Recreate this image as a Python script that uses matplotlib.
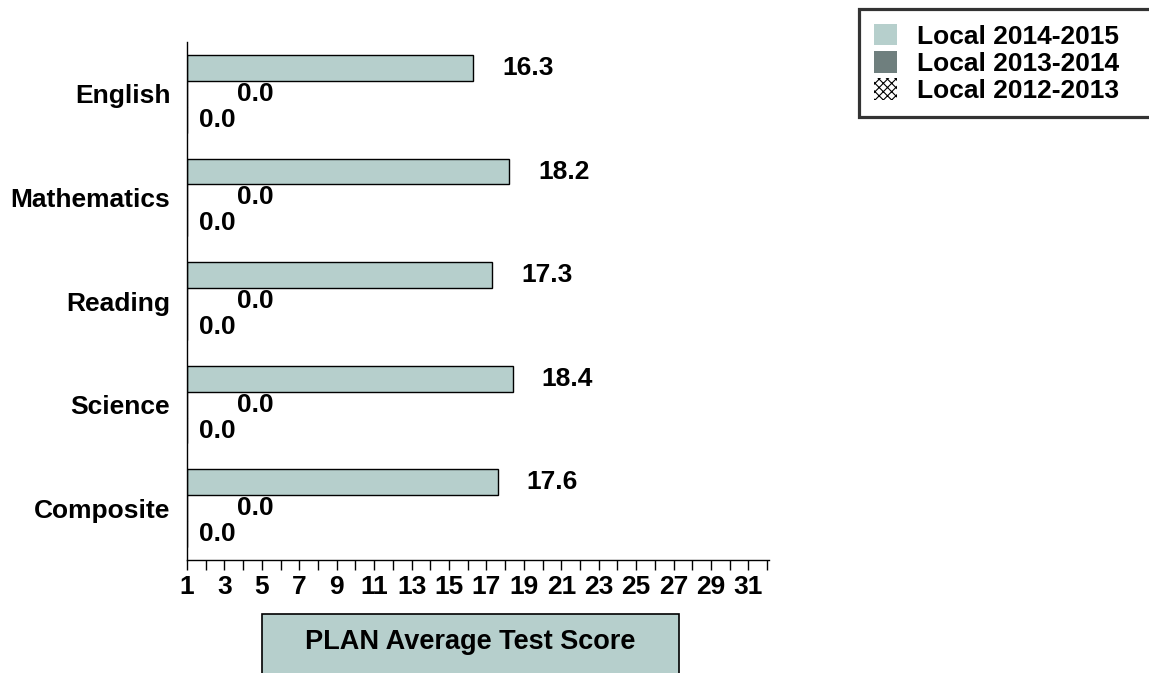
import matplotlib
matplotlib.use('Agg')
import matplotlib.pyplot as plt
from matplotlib.patches import Patch, Rectangle
import numpy as np

plt.rcParams['font.family'] = ['Liberation Sans', 'DejaVu Sans']
plt.rcParams['font.weight'] = 'bold'
plt.rcParams['hatch.linewidth'] = 0.8

# Data
subjects = ['English', 'Mathematics', 'Reading', 'Science', 'Composite']
series_names = ['Local 2014-2015', 'Local 2013-2014', 'Local 2012-2013']
local_2015 = [16.3, 18.2, 17.3, 18.4, 17.6]
local_2014 = [0.0, 0.0, 0.0, 0.0, 0.0]
local_2013 = [0.0, 0.0, 0.0, 0.0, 0.0]
xtick_values = list(range(1, 33))
xtick_labels = [str(v) if v % 2 == 1 else '' for v in xtick_values]

colors = ['#b6cfcc', '#6f7f7e', 'white']
hatches = [None, None, 'xxxx']
label_offsets = [21, 36, 8.5]   # points to the right of the bar end
base = 1
fs = 19

W, H = 1149, 673
fig = plt.figure(figsize=(W / 100, H / 100), dpi=100)
ax = fig.add_axes([187 / W, 1 - 560 / H, 582 / W, 518 / H])

y = np.arange(len(subjects))
h = 0.25
for k, vals in enumerate([local_2015, local_2014, local_2013]):
    pos = y + (k - 1) * h
    widths = [v - base for v in vals]
    ax.barh(pos, widths, height=h, left=base, color=colors[k],
            edgecolor='black', linewidth=1.0, hatch=hatches[k])
    for p, v in zip(pos, vals):
        ax.annotate('%.1f' % v, xy=(max(v, base), p),
                    xytext=(label_offsets[k], 0), textcoords='offset points',
                    ha='left', va='center', fontsize=fs, fontweight='bold')

ax.set_xlim(1, 32.1)
ax.set_ylim(4.5, -0.5)
ax.set_xticks(xtick_values)
ax.set_xticklabels(xtick_labels, fontsize=fs, fontweight='bold')
ax.set_yticks(y)
ax.set_yticklabels(subjects, fontsize=fs, fontweight='bold')
ax.tick_params(axis='y', length=0, pad=12)
ax.tick_params(axis='x', length=7, width=1, direction='out', pad=4)
for s in ['top', 'right']:
    ax.spines[s].set_visible(False)
for s in ['left', 'bottom']:
    ax.spines[s].set_linewidth(1.0)

# legend (hatch takes its colour from the edge, so keep edge black with no width)
handles = [Patch(facecolor=colors[i], edgecolor='black' if hatches[i] else colors[i],
                 hatch=hatches[i], linewidth=0) for i in range(3)]
leg = fig.legend(handles, series_names, loc='upper left', mode='expand',
                 bbox_to_anchor=(859 / W, 1 - 117 / H, (1165 - 859) / W, 108 / H),
                 prop={'size': fs, 'weight': 'bold'}, frameon=True,
                 fancybox=False, borderpad=0.55, labelspacing=0.08,
                 handlelength=0.9, handleheight=0.9, handletextpad=0.75,
                 borderaxespad=0)
leg.get_frame().set_edgecolor('black')
leg.get_frame().set_linewidth(2.3)

# x-axis title box
rect = Rectangle((262 / W, -0.01), (679 - 262) / W, (673 - 614) / H + 0.01,
                 transform=fig.transFigure, facecolor='#b6cfcc',
                 edgecolor='black', linewidth=1.2, clip_on=False)
fig.patches.append(rect)
fig.text(470 / W, 1 - 642 / H, 'PLAN Average Test Score',
         ha='center', va='center', fontsize=19.5, fontweight='bold')

fig.savefig('out.png', dpi=100)
